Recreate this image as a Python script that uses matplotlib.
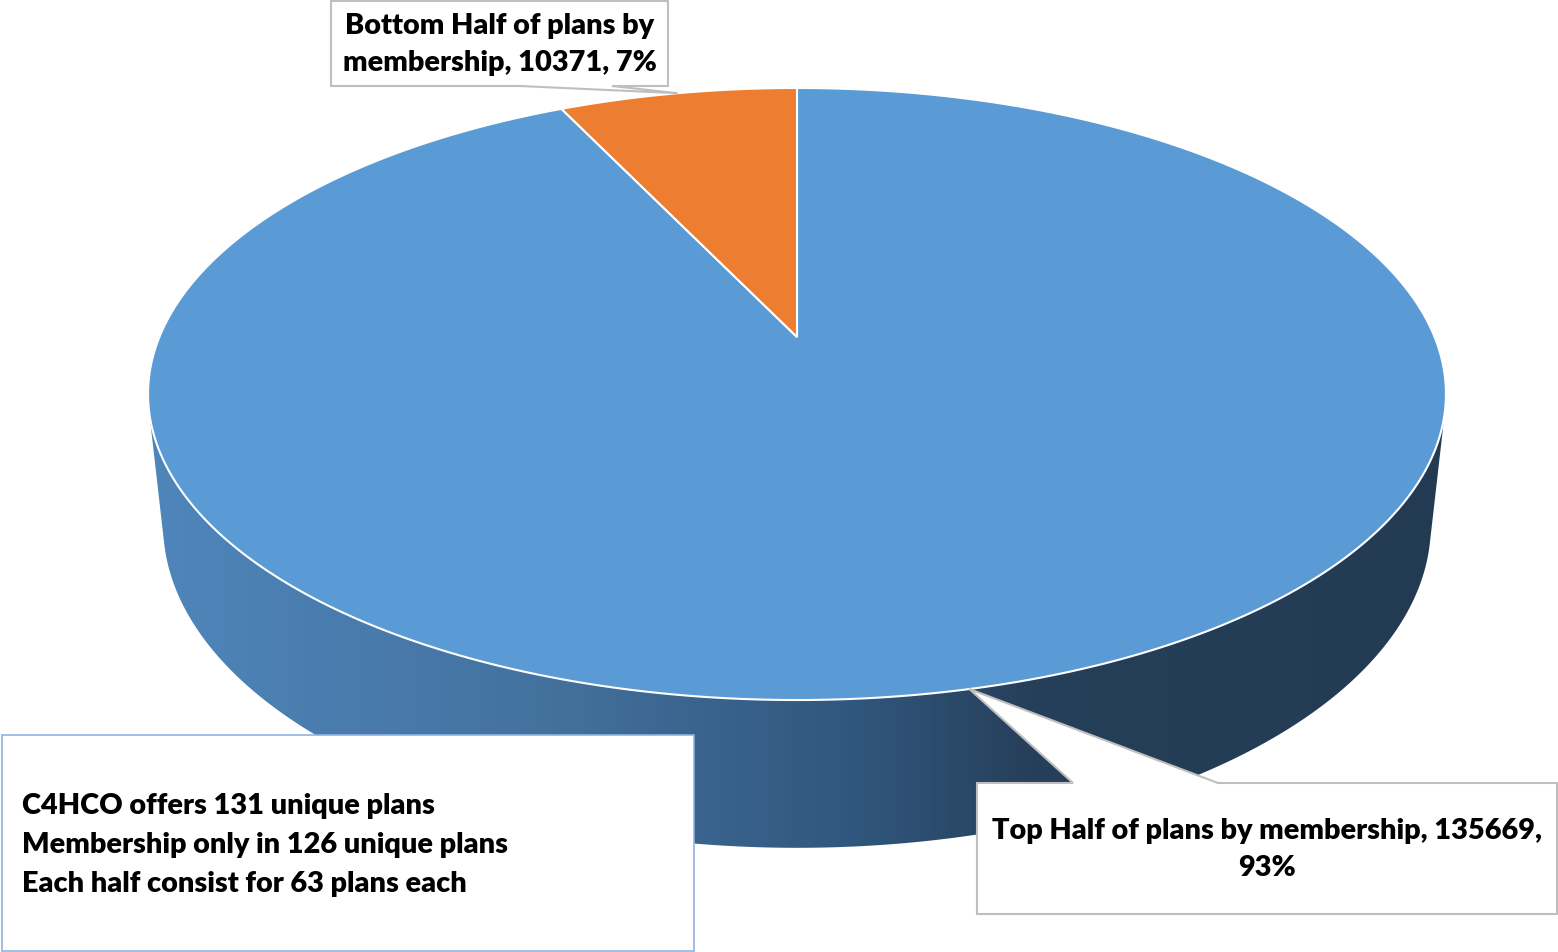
import textwrap
import numpy as np
import matplotlib.pyplot as plt
from matplotlib.colors import LinearSegmentedColormap
from matplotlib.patches import Polygon, Rectangle

# data
labels = ['Top Half of plans by membership', 'Bottom Half of plans by membership']
values = [135669, 10371]
colors = ['#5b9bd5', '#ed7d31']
wrap_widths = [40, 23]
note_lines = ['C4HCO offers 131 unique plans',
              'Membership only in 126 unique plans',
              'Each half consist for 63 plans each']

plt.rcParams['font.family'] = ['Lato', 'DejaVu Sans']
FS = 20.8
FW = 'heavy'

# perspective of the 3d pie (pixel space)
cx, cy = 797, 337
A, B, D = 637.6, 295.4, 132.0
k, m = 0.1863, 0.023


def proj(theta, r=1.0, depth=0.0):
    '''theta clockwise from 12 o'clock, depth 0 = top face, 1 = bottom face'''
    x = r * np.sin(theta)
    z = r * np.cos(theta)
    w = 1 + k * z + m * depth
    return cx + A * x / w, cy - B * z / w + D * depth / w


def hull(pts):
    pts = sorted(set(pts))

    def cross(o, a, b):
        return (a[0]-o[0])*(b[1]-o[1]) - (a[1]-o[1])*(b[0]-o[0])

    def half(p):
        h = []
        for q in p:
            while len(h) >= 2 and cross(h[-2], h[-1], q) <= 0:
                h.pop()
            h.append(q)
        return h
    lo = half(pts)
    up = half(pts[::-1])
    return lo[:-1] + up[:-1]


fig = plt.figure(figsize=(15.58, 9.52), dpi=100)
ax = fig.add_axes([0, 0, 1, 1])
ax.set_xlim(0, 1558)
ax.set_ylim(952, 0)
ax.axis('off')

total = sum(values)
fracs = [v / total for v in values]
bounds = np.concatenate([[0], np.cumsum(fracs)]) * 2 * np.pi

# side wall with horizontal gradient
t = np.linspace(0, 2 * np.pi, 721)
tx, ty = proj(t)
bx, by = proj(t, depth=1.0)
pts = [(float(a), float(b)) for a, b in zip(np.r_[tx, bx], np.r_[ty, by])]
side = Polygon(hull(pts), closed=True, facecolor='none', edgecolor='none')
ax.add_patch(side)
cmap = LinearSegmentedColormap.from_list('side', [
    (0.0, '#4f86bb'), (0.3, '#44729f'), (0.55, '#30567c'),
    (0.68, '#263f5a'), (1.0, '#233b52')])
im = ax.imshow(np.linspace(0, 1, 512).reshape(1, -1), cmap=cmap,
               extent=[145, 1450, 870, 370], aspect='auto', zorder=1)
im.set_clip_path(side)

# top faces
for i in range(len(values)):
    tt = np.linspace(bounds[i], bounds[i+1], 400)
    ex, ey = proj(tt)
    xs = np.r_[cx, ex, cx]
    ys = np.r_[cy, ey, cy]
    ax.add_patch(Polygon(np.c_[xs, ys], closed=True, facecolor=colors[i],
                         edgecolor='white', lw=1.5, zorder=2))

# callouts
boxes = [(977, 783, 1557, 914), (331, 1, 668, 86)]
bases = [(1073, 1218), (520, 612)]
for i in range(len(values)):
    mid = (bounds[i] + bounds[i+1]) / 2
    px, py = proj(mid)
    x0, y0, x1, y1 = boxes[i]
    b0, b1 = bases[i]
    if py < y0:
        poly = [(x0, y0), (b0, y0), (px, py), (b1, y0), (x1, y0), (x1, y1), (x0, y1)]
    else:
        poly = [(x0, y0), (x1, y0), (x1, y1), (b1, y1), (px, py), (b0, y1), (x0, y1)]
    ax.add_patch(Polygon(poly, closed=True, facecolor='white',
                         edgecolor='#bfbfbf', lw=1.5, zorder=5))
    txt = textwrap.fill('%s, %d, %d%%' % (labels[i], values[i], round(fracs[i]*100)),
                        wrap_widths[i])
    ax.text((x0 + x1) / 2, (y0 + y1) / 2 + 1, txt, ha='center', va='center',
            fontsize=FS, fontweight=FW, linespacing=1.55, zorder=6)

# note box
ax.add_patch(Rectangle((2, 735), 692, 216, facecolor='white',
                       edgecolor='#8db4e2', lw=1.2, zorder=7))
for j, line in enumerate(note_lines):
    ax.text(22, 806 + 39 * j, line, ha='left', va='center',
            fontsize=FS, fontweight=FW, zorder=8)

fig.savefig('out.png', dpi=100)
